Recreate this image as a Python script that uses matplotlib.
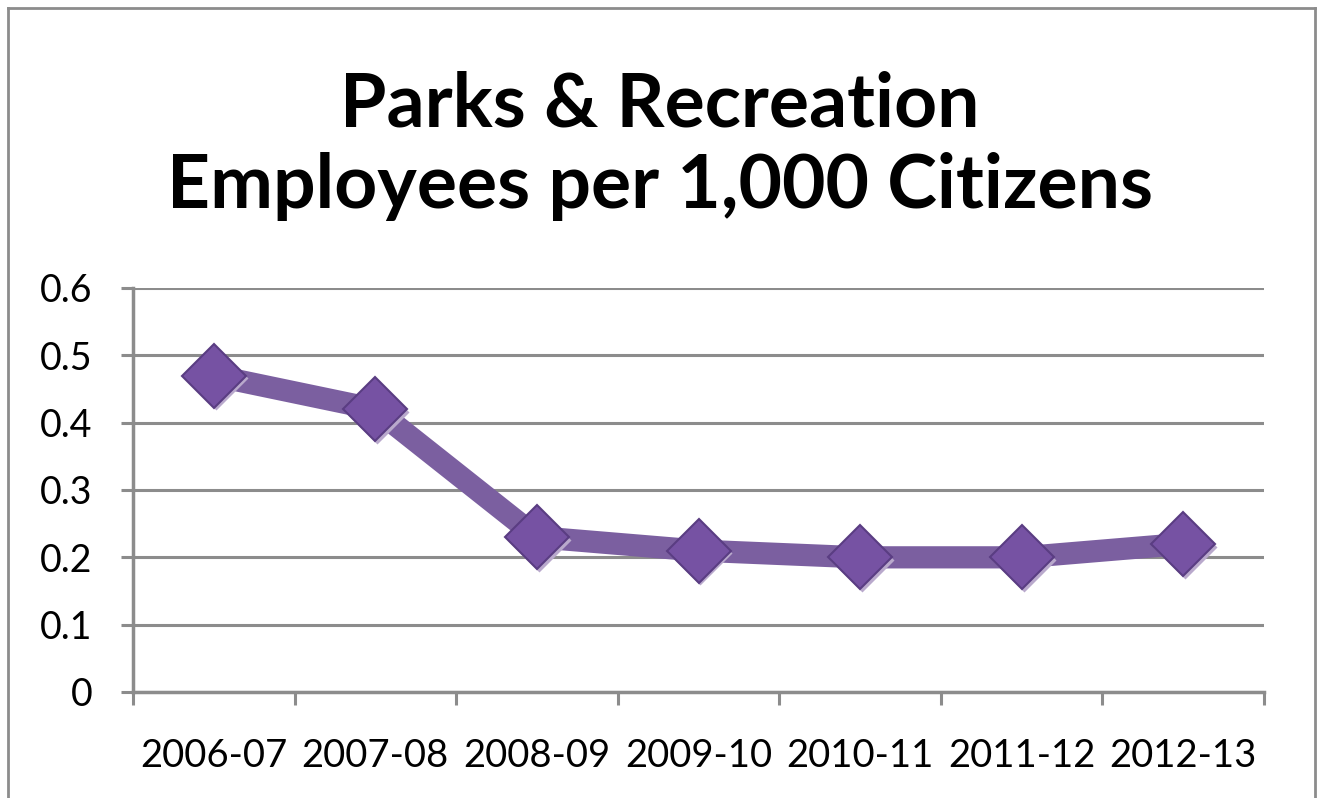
import matplotlib
matplotlib.use("Agg")
import matplotlib.pyplot as plt
from matplotlib.lines import Line2D
import numpy as np

categories = ["2006-07", "2007-08", "2008-09", "2009-10", "2010-11", "2011-12", "2012-13"]
values = [0.47, 0.42, 0.23, 0.21, 0.20, 0.20, 0.22]
y_ticks = [0, 0.1, 0.2, 0.3, 0.4, 0.5, 0.6]
y_labels = ["0", "0.1", "0.2", "0.3", "0.4", "0.5", "0.6"]
title = "Parks & Recreation\nEmployees per 1,000 Citizens"

W, H = 1317, 798
fig = plt.figure(figsize=(W / 100, H / 100), dpi=100)
fig.patch.set_facecolor("white")

plt.rcParams['font.family'] = ['Lato', 'DejaVu Sans']

grid_c = "#8c8c8c"
ax = fig.add_axes([133 / W, 1 - 692 / H, (1264 - 133) / W, (692 - 288) / H])
x = np.arange(len(categories))
ax.plot(x, values, color="#7b5fa0", linewidth=16, solid_capstyle="butt", zorder=3)
# marker shadow
ax.plot(x + 0.012, np.array(values) - 0.004, linestyle="none", marker="D", markersize=33,
        markerfacecolor="#b9a9cc", markeredgecolor="none", zorder=4)
ax.plot(x, values, linestyle="none", marker="D", markersize=33,
        markerfacecolor="#7652a3", markeredgecolor="#5a3d82", markeredgewidth=1.5, zorder=5)

ax.set_xlim(-0.5, len(categories) - 0.5)
ax.set_ylim(0, 0.6)
ax.set_yticks(y_ticks)
ax.set_yticklabels(y_labels)
ax.set_xticks(np.arange(len(categories) + 1) - 0.5)
ax.set_xticklabels([])
ax.set_xticks(x, minor=True)
ax.set_xticklabels(categories, minor=True)
ax.tick_params(axis="x", which="minor", length=0, pad=33, labelsize=27.5)
ax.tick_params(axis="x", which="major", length=9, width=2.2, color=grid_c, direction="out")
ax.tick_params(axis="y", length=9, width=2.2, color=grid_c, pad=20, labelsize=27)
ax.yaxis.grid(True, color=grid_c, linewidth=2.2)
ax.set_axisbelow(True)
for s in ["top", "right"]:
    ax.spines[s].set_visible(False)
for s in ["left", "bottom"]:
    ax.spines[s].set_color(grid_c)
    ax.spines[s].set_linewidth(2.5)

fig.text(660 / W, 1 - 146 / H, title, ha="center", va="center", fontsize=54,
         fontweight="bold", linespacing=1.22)

# outer chart border
bc = "#8c8c8c"
l, t, r = 8 / W, 1 - 8 / H, 1315 / W
fig.add_artist(Line2D([l, l], [0, t], transform=fig.transFigure, color=bc, linewidth=2))
fig.add_artist(Line2D([l, r], [t, t], transform=fig.transFigure, color=bc, linewidth=2))
fig.add_artist(Line2D([r, r], [0, t], transform=fig.transFigure, color=bc, linewidth=2))

fig.savefig("out.png", dpi=100)
